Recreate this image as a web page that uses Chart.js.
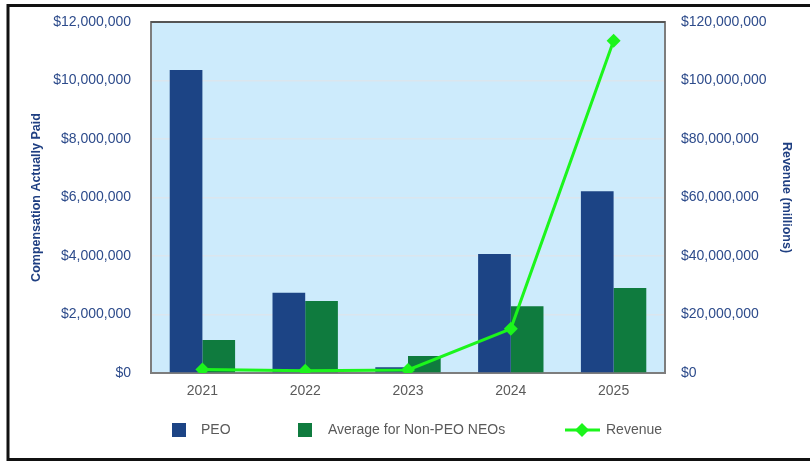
<!DOCTYPE html>
<html>
<head>
<meta charset="utf-8">
<script src="https://cdn.jsdelivr.net/npm/chart.js@4.4.1/dist/chart.umd.min.js"></script>
<style>
  html, body { margin: 0; padding: 0; background: #ffffff; }
  #wrap { width: 810px; height: 462px; position: relative; }
</style>
</head>
<body>
<div id="wrap"><canvas id="c" width="810" height="462"></canvas></div>
<script>
const years = ['2021', '2022', '2023', '2024', '2025'];
const peo = [10360000, 2740000, 200000, 4070000, 6210000];
const nonPeo = [1130000, 2460000, 580000, 2280000, 2910000];
const revenue = [1160000, 800000, 1060000, 15100000, 113600000];
const seriesLabels = ['PEO', 'Average for Non-PEO NEOs', 'Revenue'];
const leftTitle = 'Compensation Actually Paid';
const rightTitle = 'Revenue (millions)';

const BLUE = '#1c4485';
const GREEN = '#0f7b3e';
const LIME = '#1cf51c';
const TICK = '#2d4b8b';
const TITLE = '#1f3f82';
const GREY = '#5a5a5a';
const FONT = "'Liberation Sans', Arial, sans-serif";

const money = v => '$' + Number(v).toLocaleString('en-US');

const decor = {
  id: 'decor',
  beforeDraw(chart) {
    const {ctx, chartArea: a} = chart;
    ctx.save();
    ctx.fillStyle = '#ffffff';
    ctx.fillRect(0, 0, chart.width, chart.height);
    ctx.fillStyle = '#cdebfc';
    ctx.fillRect(a.left, a.top, a.right - a.left, a.bottom - a.top);
    ctx.restore();
  },
  beforeDatasetsDraw(chart) {
    const {ctx, chartArea: a} = chart;
    ctx.save();
    ctx.strokeStyle = '#7d7d7d';
    ctx.lineWidth = 2;
    ctx.strokeRect(a.left, a.top, a.right - a.left, a.bottom - a.top);
    ctx.strokeStyle = '#555555';
    ctx.beginPath(); ctx.moveTo(a.left, a.top); ctx.lineTo(a.right, a.top); ctx.stroke();
    ctx.restore();
  },
  afterDraw(chart) {
    const ctx = chart.ctx;
    const ds = chart.data.datasets;
    ctx.save();
    const ly = 430;
    ctx.font = '14px ' + FONT;
    ctx.textBaseline = 'middle';
    ctx.textAlign = 'left';
    ctx.fillStyle = ds[0].backgroundColor;
    ctx.fillRect(172, ly - 7, 14, 14);
    ctx.fillStyle = GREY;
    ctx.fillText(ds[0].label, 201, ly);
    ctx.fillStyle = ds[1].backgroundColor;
    ctx.fillRect(298, ly - 7, 14, 14);
    ctx.fillStyle = GREY;
    ctx.fillText(ds[1].label, 328, ly);
    ctx.strokeStyle = ds[2].borderColor;
    ctx.lineWidth = 3;
    ctx.beginPath(); ctx.moveTo(565, ly); ctx.lineTo(600, ly); ctx.stroke();
    ctx.fillStyle = ds[2].borderColor;
    ctx.beginPath();
    ctx.moveTo(582 - 7, ly); ctx.lineTo(582, ly - 7); ctx.lineTo(582 + 7, ly); ctx.lineTo(582, ly + 7);
    ctx.closePath(); ctx.fill();
    ctx.fillStyle = GREY;
    ctx.fillText(ds[2].label, 606, ly);
    ctx.strokeStyle = '#111111';
    ctx.lineWidth = 3;
    ctx.beginPath();
    ctx.moveTo(812, 5.5); ctx.lineTo(8, 5.5); ctx.lineTo(8, 459.5); ctx.lineTo(812, 459.5);
    ctx.stroke();
    ctx.restore();
  }
};

new Chart(document.getElementById('c'), {
  type: 'bar',
  data: {
    labels: years,
    datasets: [
      { label: seriesLabels[0], data: peo, backgroundColor: BLUE, yAxisID: 'y', order: 1,
        categoryPercentage: 0.636, barPercentage: 1.0 },
      { label: seriesLabels[1], data: nonPeo, backgroundColor: GREEN, yAxisID: 'y', order: 1,
        categoryPercentage: 0.636, barPercentage: 1.0 },
      { label: seriesLabels[2], data: revenue, type: 'line', yAxisID: 'y1', order: 0,
        borderColor: LIME, backgroundColor: LIME, borderWidth: 3,
        pointStyle: 'rectRot', pointRadius: 7, pointHoverRadius: 7,
        pointBackgroundColor: LIME, pointBorderColor: LIME, pointBorderWidth: 0,
        tension: 0, fill: false }
    ]
  },
  options: {
    responsive: false,
    animation: false,
    devicePixelRatio: 1,
    layout: { padding: { top: 22, left: 7, right: 0, bottom: 0 } },
    plugins: { legend: { display: false }, tooltip: { enabled: false } },
    scales: {
      x: {
        grid: { display: false, drawTicks: false },
        border: { display: false },
        ticks: { color: GREY, font: { family: FONT, size: 14 }, padding: 10 },
        afterFit(s) { s.height = 89; s.paddingLeft = 0; s.paddingRight = 0; }
      },
      y: {
        position: 'left',
        min: 0, max: 12000000,
        grid: { color: '#dbe6ee', lineWidth: 1.5, drawTicks: false },
        border: { display: false },
        ticks: { stepSize: 2000000, color: TICK, font: { family: FONT, size: 14 }, padding: 20, callback: money },
        title: { display: true, text: leftTitle, color: TITLE, font: { family: FONT, size: 12.5, weight: 'bold' }, padding: { top: 22, bottom: 0 } },
        afterFit(s) { s.width = 144; s.paddingTop = 0; s.paddingBottom = 0; }
      },
      y1: {
        position: 'right',
        min: 0, max: 120000000,
        grid: { display: false, drawTicks: false },
        border: { display: false },
        ticks: { stepSize: 20000000, color: TICK, font: { family: FONT, size: 14 }, padding: 16, callback: money },
        title: { display: true, text: rightTitle, color: TITLE, font: { family: FONT, size: 12.5, weight: 'bold' }, padding: { top: 16, bottom: 0 } },
        afterFit(s) { s.width = 145; s.paddingTop = 0; s.paddingBottom = 0; }
      }
    }
  },
  plugins: [decor]
});
</script>
</body>
</html>
